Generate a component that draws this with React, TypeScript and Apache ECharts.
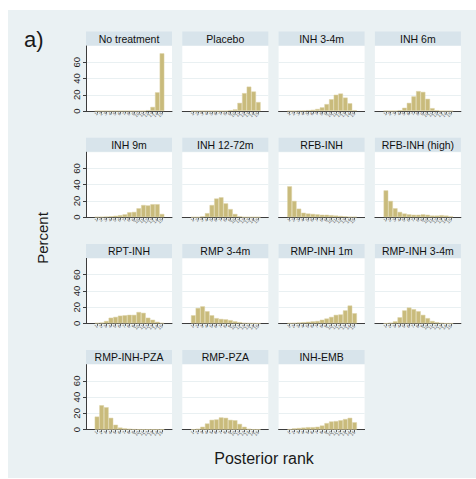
import React, { useEffect, useRef } from 'react';
import * as echarts from 'echarts';

const ranks = ['1', '2', '3', '4', '5', '6', '7', '8', '9', '10', '11', '12', '13', '14', '15'];
const yTicks = [0, 20, 40, 60];

const panelTitles = [
  'No treatment', 'Placebo', 'INH 3-4m', 'INH 6m',
  'INH 9m', 'INH 12-72m', 'RFB-INH', 'RFB-INH (high)',
  'RPT-INH', 'RMP 3-4m', 'RMP-INH 1m', 'RMP-INH 3-4m',
  'RMP-INH-PZA', 'RMP-PZA', 'INH-EMB',
];

const noTreatment = [0, 0, 0, 0, 0, 0, 0, 0, 0, 0, 0, 1, 5, 23, 71];
const placebo = [0, 0, 0, 0, 0, 0, 0, 0, 1, 2, 10, 22, 30, 24, 11];
const inh34 = [0, 0, 0.3, 0.5, 1, 1.5, 2.5, 4.5, 8.5, 14.5, 20, 21.5, 16.5, 9.5, 1];
const inh6 = [0, 0, 0, 1, 4, 10, 18, 24.5, 23.5, 15, 3.5, 1, 0, 0, 0];
const inh9 = [0.3, 0.5, 0.8, 1.2, 1.8, 2.5, 3.5, 6, 6.5, 11, 15, 14.5, 16, 16, 4];
const inh1272 = [0, 0, 1, 5, 15, 23, 24.5, 17, 10, 4, 1, 0, 0, 0, 0];
const rfbInh = [38, 20, 10.5, 5.5, 4.5, 4, 3.5, 3, 3, 2.5, 2, 1.5, 1, 0.5, 0.5];
const rfbInhHigh = [33, 20, 11, 6.5, 4.5, 3.5, 3, 3, 3.5, 3, 2, 2, 2.5, 2, 1];
const rptInh = [0.5, 1, 3, 7, 8, 9.5, 10, 10.5, 10.5, 14, 13, 7, 4.5, 2, 0.5];
const rmp34 = [10, 19, 21, 15, 10, 6.5, 5.5, 5, 4, 2.5, 1.5, 0.5, 0.3, 0.2, 0];
const rmpInh1 = [0.3, 0.5, 1, 1.5, 2, 2.5, 3, 4.5, 6, 8, 10.5, 11, 16, 22, 12.5];
const rmpInh34 = [0, 0.8, 2.5, 7.5, 16, 19.5, 17.5, 15, 10.5, 6.5, 3, 1.5, 0.5, 0, 0];
const rmpInhPza = [16, 30, 27.5, 14.5, 6, 2.5, 1.5, 1, 0.5, 0.3, 0.2, 0.2, 0.2, 0.2, 0.2];
const rmpPza = [0.3, 1, 3.5, 7.5, 12, 12.5, 15, 14.5, 12, 11.5, 7, 3.5, 1, 0.3, 0.2];
const inhEmb = [0.5, 1.5, 2, 2.5, 3, 3, 3.5, 5, 8, 10, 10.5, 11.5, 13, 14.5, 9];

const panelValues = [
  noTreatment, placebo, inh34, inh6,
  inh9, inh1272, rfbInh, rfbInhHigh,
  rptInh, rmp34, rmpInh1, rmpInh34,
  rmpInhPza, rmpPza, inhEmb,
];

export default function App() {
  const ref = useRef<HTMLDivElement>(null);
  useEffect(() => {
    const chart = echarts.init(ref.current!, null, { renderer: 'svg' });
    const colLeft = [86, 182.3, 278.6, 374.9];
    const rowTop = [31.5, 137.7, 243.9, 350.1];
    const panelW = 86;
    const headerH = 14.5;
    const plotH = 65;
    const axisColor = '#3c3c3c';
    const font = 'Liberation Sans, Arial, sans-serif';

    const grids: any[] = [];
    const xAxes: any[] = [];
    const yAxes: any[] = [];
    const series: any[] = [];
    const graphics: any[] = [
      { type: 'rect', z: -100, shape: { x: 8, y: 10, width: 468, height: 468 }, style: { fill: '#eaf1f3' } },
      { type: 'text', x: 24, y: 39, style: { text: 'a)', fontSize: 22, fontFamily: font, fill: '#1a1a1a', verticalAlign: 'middle' } },
      { type: 'text', x: 42, y: 238, rotation: Math.PI / 2, style: { text: 'Percent', fontSize: 15, fontFamily: font, fill: '#1a1a1a', align: 'center', verticalAlign: 'middle' } },
      { type: 'text', x: 264, y: 458, style: { text: 'Posterior rank', fontSize: 16, fontFamily: font, fill: '#1a1a1a', align: 'center', verticalAlign: 'middle' } },
    ];

    panelValues.forEach((vals, i) => {
      const r = Math.floor(i / 4);
      const c = i % 4;
      const left = colLeft[c];
      const hTop = rowTop[r];
      const pTop = hTop + headerH;

      graphics.push({ type: 'rect', z: -50, shape: { x: left, y: hTop, width: panelW, height: headerH - 0.5 }, style: { fill: '#d8e4eb' } });
      graphics.push({ type: 'text', z: -40, x: left + panelW / 2, y: hTop + headerH / 2, style: { text: panelTitles[i], fontSize: 10.5, fontFamily: font, fill: '#111', align: 'center', verticalAlign: 'middle' } });

      const gA = grids.length;
      grids.push({ left, top: pTop, width: panelW, height: plotH, show: true, backgroundColor: '#ffffff', borderWidth: 0 });
      xAxes.push({
        type: 'value', gridIndex: gA, min: 0, max: 1, position: 'bottom',
        axisLine: { show: true, lineStyle: { color: axisColor, width: 1 } },
        axisTick: { show: false }, axisLabel: { show: false }, splitLine: { show: false },
      });
      yAxes.push({
        type: 'value', gridIndex: gA, min: 0, max: 80, interval: 20,
        axisLine: { show: c === 0, lineStyle: { color: axisColor, width: 1 } },
        axisTick: { show: c === 0, length: 3, customValues: yTicks, lineStyle: { color: axisColor } },
        axisLabel: {
          show: c === 0, rotate: 90, fontSize: 9.5, color: '#222', margin: 5, fontFamily: font,
          customValues: yTicks,
          formatter: (v: number) => (v === 80 ? '' : String(v)),
        },
        splitLine: { show: true, lineStyle: { color: '#e9f0f2', width: 1 } },
      });

      const gB = grids.length;
      grids.push({ left: left + 8.7, top: pTop, width: 69.6, height: plotH, show: false });
      xAxes.push({
        type: 'category', gridIndex: gB, data: ranks, boundaryGap: true,
        axisLine: { show: false },
        axisTick: { show: true, alignWithLabel: true, length: 2.5, interval: 0, lineStyle: { color: axisColor, width: 0.8 } },
        axisLabel: { interval: 0, rotate: 45, fontSize: 4.5, color: '#555', margin: 2, fontFamily: font },
        splitLine: { show: false },
      });
      yAxes.push({ type: 'value', gridIndex: gB, min: 0, max: 80, show: false, splitLine: { show: false } });

      series.push({
        type: 'bar', xAxisIndex: gB, yAxisIndex: gB, data: vals,
        barCategoryGap: '0%',
        itemStyle: { color: '#c9bb7c', borderColor: '#ddd3a6', borderWidth: 0.5 },
        silent: true,
      });
    });

    chart.setOption({
      animation: false,
      backgroundColor: '#ffffff',
      grid: grids,
      xAxis: xAxes,
      yAxis: yAxes,
      series,
      graphic: graphics,
    });
    return () => chart.dispose();
  }, []);
  return <div ref={ref} style={{ position: 'fixed', left: 0, top: 0, width: 476, height: 479 }} />;
}
